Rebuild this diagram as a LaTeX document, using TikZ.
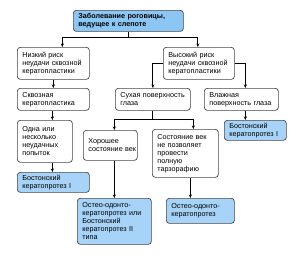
\documentclass[tikz,border=0pt]{standalone}
\usepackage{fontspec}
\setmainfont{Liberation Sans}
\usetikzlibrary{arrows.meta}
\definecolor{topblue}{RGB}{140,198,244}
\definecolor{boxblue}{RGB}{166,211,247}
\definecolor{edge}{RGB}{70,70,70}
\tikzset{
  x=1pt,y=-1pt,
  box/.style={draw=edge, line width=0.7pt, rounded corners=3pt, fill=white,
    anchor=north west, align=left, inner xsep=5pt, inner ysep=0pt,
    font=\fontsize{7.2pt}{8pt}\selectfont},
  bluebox/.style={box, fill=boxblue},
  arr/.style={draw=black, line width=0.8pt, -{Stealth[length=3.5pt,width=3pt]}},
  ln/.style={draw=black, line width=0.8pt},
}
\newcommand{\bx}[7]{% style, name, x, y, w, h, text
  \node[#1, minimum width=#5pt, minimum height=#6pt, text width=#5pt-10pt] (#2) at (#3,#4) {#7};}
\begin{document}
\begin{tikzpicture}
\useasboundingbox (0,0) rectangle (300,265);
\bx{box,fill=topblue,font=\fontsize{7.2pt}{8pt}\selectfont\bfseries}{top}{73}{10}{110}{21}{Заболевание роговицы,\\ведущее к~слепоте}
\bx{box}{low}{17}{47}{72}{32}{Низкий риск\\неудачи~сквозной\\кератопластики}
\bx{box}{high}{163}{47}{71}{32}{Высокий риск\\неудачи~сквозной\\кератопластики}
\bx{box}{skv}{17}{88}{72}{22}{Сквозная\\кератопластика}
\bx{box}{suh}{115}{88}{75}{22}{Сухая~поверхность\\глаза}
\bx{box}{vlazh}{204}{88}{74}{22}{Влажная\\поверхность~глаза}
\bx{box}{odna}{17}{120}{55}{42}{Одна или\\несколько\\неудачных\\попыток}
\bx{bluebox}{bostR}{224}{120}{62}{20}{Бостонский\\кератопротез~I}
\bx{box}{hor}{83}{130}{54}{30}{Хорошее\\состояние~век}
\bx{box}{sost}{152}{129}{66}{48}{Состояние~век\\не~позволяет\\провести\\полную\\тарзорафию}
\bx{bluebox}{bostL}{17}{172}{72}{20}{Бостонский\\кератопротез~I}
\bx{bluebox}{osteoL}{77}{198}{74}{46}{Остео-одонто-\\кератопротез~или\\Бостонский\\кератопротез~II\\типа}
\bx{bluebox}{osteoR}{166}{198}{68}{25}{Остео-одонто-\\кератопротез}

% connectors
\coordinate (j1) at ([yshift=-6pt]top.south);
\draw[ln] (top.south) -- (j1);
\draw[arr] (j1) -| ([xshift=9pt]low.north);
\draw[arr] (j1) -| ([xshift=-1pt]high.north);
\draw[arr] (low.south) -- (skv.north);
\draw[arr] (high.west) -| (suh.north);
\draw[arr] (high.east) -| ([xshift=4pt]vlazh.north);
\draw[arr] ([xshift=-1pt]skv.south) -- ([xshift=-1pt]skv.south |- odna.north);
\draw[arr] ([xshift=-1pt]bostL.north |- odna.south) -- ([xshift=-1pt]bostL.north);
\draw[arr] ([xshift=4pt]vlazh.south) -- ([xshift=4pt]vlazh.south |- bostR.north);
\coordinate (j2) at ([yshift=-9pt]suh.south);
\draw[ln] (suh.south) -- (j2);
\draw[arr] (j2) -| ([xshift=4pt]hor.north);
\draw[arr] (j2) -| ([xshift=8pt]sost.north);
\draw[arr] (osteoL.north |- hor.south) -- (osteoL.north);
\draw[arr] ([xshift=5pt]sost.south) -- ([xshift=5pt]sost.south |- osteoR.north);
\end{tikzpicture}
\end{document}
